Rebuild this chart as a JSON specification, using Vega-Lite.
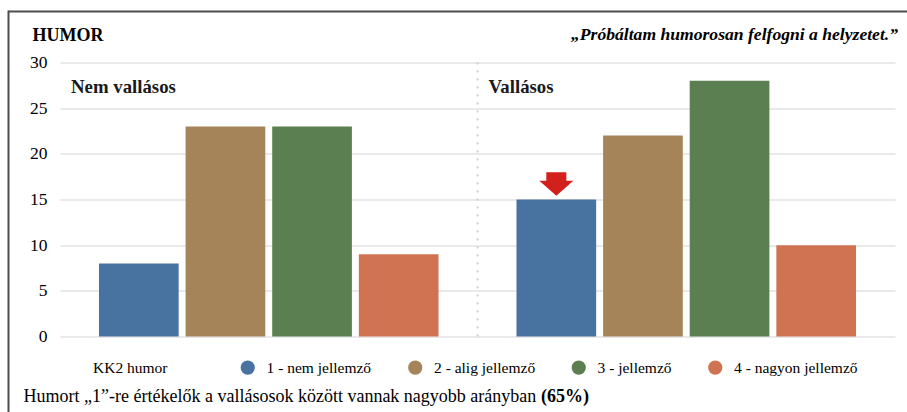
{
  "$schema": "https://vega.github.io/schema/vega-lite/v6.json",
  "width": 835,
  "height": 274,
  "autosize": {"type": "none"},
  "padding": {"left": 60, "top": 62.5, "right": 12, "bottom": 75.5},
  "background": "white",
  "config": {
    "view": {"stroke": null}
  },
  "title": {
    "text": "„Próbáltam humorosan felfogni a helyzetet.”",
    "anchor": "end",
    "frame": "group",
    "orient": "top",
    "offset": 18,
    "dy": 50.5,
    "dx": 3,
    "fontSize": 17.6,
    "fontWeight": "bold",
    "fontStyle": "italic",
    "color": "black",
    "font": "Liberation Serif"
  },
  "datasets": {
    "bars": [
      {"group": "Nem vallásos", "category": "1 - nem jellemző", "value": 8},
      {"group": "Nem vallásos", "category": "2 - alig jellemző", "value": 23},
      {"group": "Nem vallásos", "category": "3 - jellemző", "value": 23},
      {"group": "Nem vallásos", "category": "4 - nagyon jellemző", "value": 9},
      {"group": "Vallásos", "category": "1 - nem jellemző", "value": 15},
      {"group": "Vallásos", "category": "2 - alig jellemző", "value": 22},
      {"group": "Vallásos", "category": "3 - jellemző", "value": 28},
      {"group": "Vallásos", "category": "4 - nagyon jellemző", "value": 10}
    ],
    "groups": [
      {"group": "Nem vallásos"},
      {"group": "Vallásos"}
    ],
    "marker": [
      {"group": "Vallásos", "category": "1 - nem jellemző", "value": 15}
    ]
  },
  "layer": [
    {
      "layer": [
        {
          "data": {"name": "bars"},
          "mark": {"type": "bar"},
          "encoding": {
            "x": {
              "field": "group",
              "type": "nominal",
              "sort": ["Nem vallásos", "Vallásos"],
              "scale": {"paddingInner": 0, "paddingOuter": 0},
              "axis": {
                "labels": false,
                "ticks": false,
                "domain": false,
                "grid": false,
                "title": "Humort „1”-re értékelők a vallásosok között vannak nagyobb arányban",
                "titleFont": "Liberation Serif",
                "titleX": -37,
                "titleY": 59.5,
                "titleAlign": "left",
                "titleAngle": 0,
                "titleBaseline": "middle",
                "titleFontSize": 18,
                "titleFontWeight": "normal",
                "titleColor": "black"
              }
            },
            "xOffset": {
              "field": "category",
              "type": "nominal",
              "sort": ["1 - nem jellemző", "2 - alig jellemző", "3 - jellemző", "4 - nagyon jellemző"],
              "scale": {"paddingInner": 0.08, "paddingOuter": 0.45}
            },
            "y": {
              "field": "value",
              "type": "quantitative",
              "scale": {"domain": [0, 30], "nice": false},
              "axis": {
                "values": [0, 5, 10, 15, 20, 25, 30],
                "domain": false,
                "ticks": false,
                "grid": true,
                "gridColor": "#e2e2e2",
                "gridWidth": 1.5,
                "labelFont": "Liberation Serif",
                "labelFontSize": 17.5,
                "labelColor": "black",
                "labelPadding": 13,
                "title": "HUMOR",
                "titleFont": "Liberation Serif",
                "titleAngle": 0,
                "titleX": -28,
                "titleY": -27.5,
                "titleAlign": "left",
                "titleBaseline": "middle",
                "titleFontSize": 18,
                "titleFontWeight": "bold",
                "titleColor": "black"
              }
            },
            "color": {
              "field": "category",
              "type": "nominal",
              "scale": {
                "domain": ["1 - nem jellemző", "2 - alig jellemző", "3 - jellemző", "4 - nagyon jellemző"],
                "range": ["#48729f", "#a5845a", "#5b7f50", "#cf7352"]
              },
              "legend": {
                "title": "KK2 humor",
                "orient": "none",
                "legendX": 33,
                "legendY": 297,
                "direction": "horizontal",
                "titleOrient": "left",
                "titleFont": "Liberation Serif",
                "titleFontSize": 15.5,
                "titleFontWeight": "normal",
                "titleColor": "black",
                "titlePadding": 72,
                "titleBaseline": "middle",
                "labelFont": "Liberation Serif",
                "labelFontSize": 15.5,
                "labelColor": "black",
                "symbolType": "circle",
                "symbolSize": 201,
                "symbolStrokeWidth": 0,
                "symbolOpacity": 1,
                "labelOffset": 11,
                "columnPadding": 35.5
              }
            }
          }
        },
        {
          "data": {"name": "groups"},
          "transform": [{"filter": "datum.group === 'Vallásos'"}],
          "mark": {"type": "rule", "color": "#cfcfcf", "strokeWidth": 2, "strokeDash": [2, 6]},
          "encoding": {
            "x": {"field": "group", "type": "nominal", "bandPosition": 0}
          }
        },
        {
          "data": {"name": "groups"},
          "mark": {"type": "text", "align": "left", "baseline": "middle", "dx": 11, "font": "Liberation Serif", "fontSize": 18.8, "fontWeight": "bold", "color": "#1a1a1a"},
          "encoding": {
            "x": {"field": "group", "type": "nominal", "bandPosition": 0},
            "y": {"datum": 27.3, "type": "quantitative"},
            "text": {"field": "group"}
          }
        },
        {
          "data": {"name": "marker"},
          "mark": {
            "type": "point",
            "filled": true,
            "color": "#d2201d",
            "opacity": 1,
            "size": 1156,
            "strokeWidth": 0,
            "shape": "M -0.59 -1.6 L 0.59 -1.6 L 0.59 -1.11 L 1 -1.11 L 0 -0.22 L -1 -1.11 L -0.59 -1.11 Z"
          },
          "encoding": {
            "x": {"field": "group", "type": "nominal"},
            "xOffset": {"field": "category", "type": "nominal"},
            "y": {"field": "value", "type": "quantitative"}
          }
        }
      ]
    },
    {
      "data": {"name": "groups"},
      "mark": {"type": "point", "opacity": 0},
      "encoding": {
        "x": {
          "datum": 0,
          "type": "quantitative",
          "scale": {"domain": [0, 1], "range": [-52, 860]},
          "axis": {
            "orient": "top",
            "offset": 51.5,
            "domainColor": "#4d4d4d",
            "domainWidth": 2,
            "ticks": false,
            "labels": false,
            "grid": false,
            "title": "(65%)",
            "titleFont": "Liberation Serif",
            "titleX": 480.5,
            "titleY": 385,
            "titleAlign": "left",
            "titleAngle": 0,
            "titleBaseline": "middle",
            "titleFontSize": 18,
            "titleFontWeight": "bold",
            "titleColor": "black"
          }
        },
        "y": {
          "datum": 0,
          "type": "quantitative",
          "scale": {"domain": [0, 1], "range": [360, -52.5]},
          "axis": {
            "orient": "left",
            "offset": 52,
            "domainColor": "#4d4d4d",
            "domainWidth": 2,
            "ticks": false,
            "labels": false,
            "grid": false,
            "title": null
          }
        }
      }
    }
  ],
  "resolve": {"scale": {"x": "independent", "y": "independent"}}
}
